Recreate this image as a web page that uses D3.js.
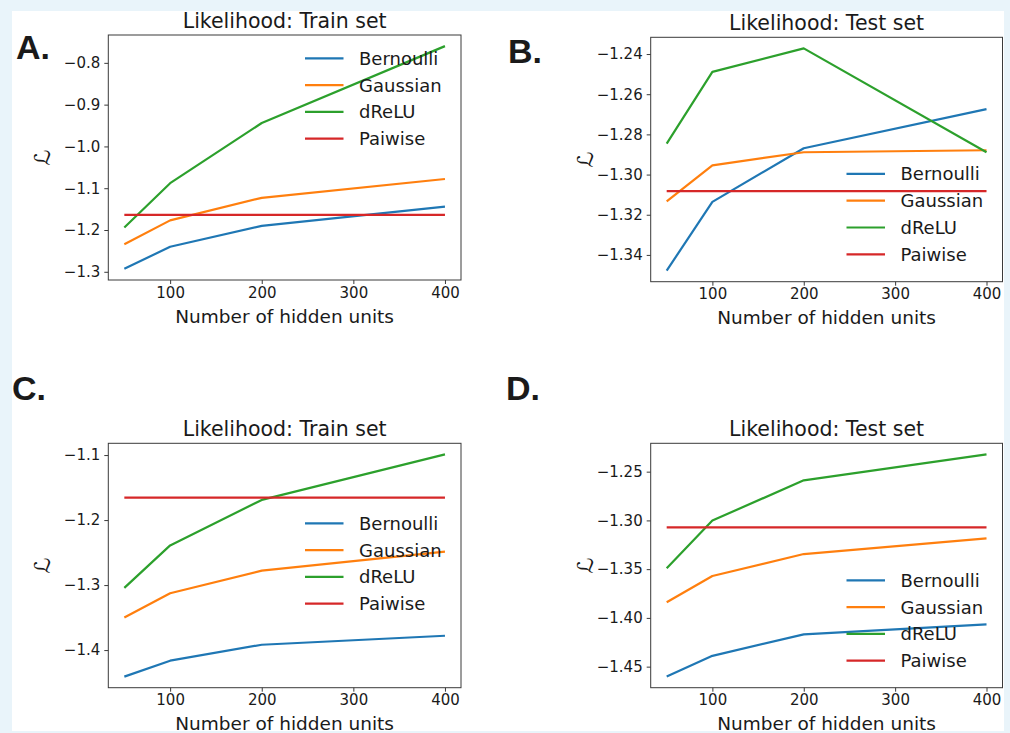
<!DOCTYPE html>
<html>
<head>
<meta charset="utf-8">
<script src="https://cdn.jsdelivr.net/npm/d3@7"></script>
<style>
  html, body { margin: 0; padding: 0; background: #e9f4fa; }
  svg { display: block; }
  text { font-family: "DejaVu Sans", sans-serif; fill: #1a1a1a; }
</style>
</head>
<body>
<script>
// Number of hidden units (shared x values)
const hiddenUnits = [50, 100, 200, 400];
const xTickValues = [100, 200, 300, 400];
const seriesNames = ["Bernoulli", "Gaussian", "dReLU", "Paiwise"];
const seriesColors = ["#1f77b4", "#ff7f0e", "#2ca02c", "#d62728"];

// Panel A — likelihood, train set
const aBernoulli = [-1.293, -1.240, -1.190, -1.144];
const aGaussian  = [-1.234, -1.177, -1.123, -1.078];
const aDReLU     = [-1.194, -1.088, -0.944, -0.760];
const aPaiwise   = -1.164;
const aTicks     = [-0.8, -0.9, -1.0, -1.1, -1.2, -1.3];

// Panel B — likelihood, test set
const bBernoulli = [-1.3478, -1.3136, -1.2869, -1.2674];
const bGaussian  = [-1.3133, -1.2954, -1.2889, -1.2879];
const bDReLU     = [-1.2846, -1.2489, -1.2372, -1.2889];
const bPaiwise   = -1.3082;
const bTicks     = [-1.24, -1.26, -1.28, -1.30, -1.32, -1.34];

// Panel C — likelihood, train set
const cBernoulli = [-1.4408, -1.4163, -1.3918, -1.3780];
const cGaussian  = [-1.3500, -1.3126, -1.2778, -1.2487];
const cDReLU     = [-1.3044, -1.2390, -1.1690, -1.0990];
const cPaiwise   = -1.1654;
const cTicks     = [-1.1, -1.2, -1.3, -1.4];

// Panel D — likelihood, test set
const dBernoulli = [-1.4602, -1.4389, -1.4169, -1.4067];
const dGaussian  = [-1.3839, -1.3570, -1.3345, -1.3185];
const dDReLU     = [-1.3491, -1.3001, -1.2589, -1.2323];
const dPaiwise   = -1.3072;
const dTicks     = [-1.25, -1.30, -1.35, -1.40, -1.45];

const panelLetters = ["A.", "B.", "C.", "D."];
const panelTitles = ["Likelihood: Train set", "Likelihood: Test set",
                     "Likelihood: Train set", "Likelihood: Test set"];
const xLabel = "Number of hidden units";
const yLabel = "\u2112";

const W = 1010, H = 733;
const svg = d3.select("body").append("svg").attr("width", W).attr("height", H);

// white figure sheet on the light-blue page
svg.append("rect").attr("x", 12).attr("y", 11).attr("width", 992).attr("height", 720)
  .attr("fill", "#ffffff");

const panels = [
  { letter: panelLetters[0], title: panelTitles[0], series: [aBernoulli, aGaussian, aDReLU], flat: aPaiwise,
    ticks: aTicks, fmt: ".1f", box: { l: 108.3, r: 461, t: 35, b: 280 },
    letterPos: [16, 58.5], legend: { anchor: "top", off: 23.3 } },
  { letter: panelLetters[1], title: panelTitles[1], series: [bBernoulli, bGaussian, bDReLU], flat: bPaiwise,
    ticks: bTicks, fmt: ".2f", box: { l: 650.7, r: 1002.5, t: 37.3, b: 281.7 },
    letterPos: [508, 63], legend: { anchor: "bottom", off: 27.4 } },
  { letter: panelLetters[2], title: panelTitles[2], series: [cBernoulli, cGaussian, cDReLU], flat: cPaiwise,
    ticks: cTicks, fmt: ".1f", box: { l: 108.3, r: 461, t: 443.3, b: 687.7 },
    letterPos: [12, 399.5], legend: { anchor: "top", off: 80 } },
  { letter: panelLetters[3], title: panelTitles[3], series: [dBernoulli, dGaussian, dDReLU], flat: dPaiwise,
    ticks: dTicks, fmt: ".2f", box: { l: 650.7, r: 1002.5, t: 443.3, b: 687.7 },
    letterPos: [506, 400], legend: { anchor: "bottom", off: 27 } }
];

const axisColor = "#3a3a3a";
const minusFmt = f => v => d3.format(f)(v).replace("-", "\u2212");

panels.forEach(p => {
  const { l, r, t, b } = p.box;
  const g = svg.append("g");

  // data extent with 5% margins
  const allVals = p.series.flat().concat([p.flat]);
  const [ymin, ymax] = d3.extent(allVals);
  const ypad = (ymax - ymin) * 0.05;
  const [xmin, xmax] = d3.extent(hiddenUnits);
  const xpad = (xmax - xmin) * 0.05;

  const x = d3.scaleLinear().domain([xmin - xpad, xmax + xpad]).range([l, r]);
  const y = d3.scaleLinear().domain([ymin - ypad, ymax + ypad]).range([b, t]);

  // axes
  const xAxis = d3.axisBottom(x).tickValues(xTickValues).tickSize(4).tickPadding(3)
    .tickFormat(d3.format("d"));
  const yAxis = d3.axisLeft(y).tickValues(p.ticks).tickSize(4).tickPadding(4)
    .tickFormat(minusFmt(p.fmt));

  const gx = g.append("g").attr("transform", `translate(0,${b})`).call(xAxis);
  const gy = g.append("g").attr("transform", `translate(${l},0)`).call(yAxis);
  [gx, gy].forEach(ax => {
    ax.select(".domain").remove();
    ax.selectAll(".tick line").attr("stroke", axisColor).attr("stroke-width", 1);
    ax.selectAll(".tick text").attr("font-size", 15).attr("fill", "#1a1a1a")
      .attr("font-family", "DejaVu Sans, sans-serif");
  });

  // lines
  const line = d3.line().x((d, i) => x(hiddenUnits[i])).y(d => y(d));
  p.series.forEach((vals, i) => {
    g.append("path").datum(vals).attr("d", line).attr("fill", "none")
      .attr("stroke", seriesColors[i]).attr("stroke-width", 2.2).attr("stroke-linejoin", "round");
  });
  g.append("path").datum(hiddenUnits.map(() => p.flat)).attr("d", line).attr("fill", "none")
    .attr("stroke", seriesColors[3]).attr("stroke-width", 2.2);

  // frame
  g.append("rect").attr("x", l).attr("y", t).attr("width", r - l).attr("height", b - t)
    .attr("fill", "none").attr("stroke", axisColor).attr("stroke-width", 1);

  // legend
  const rowGap = 26.8;
  const firstRow = p.legend.anchor === "top" ? t + p.legend.off : b - p.legend.off - rowGap * 3;
  const lx0 = r - 156;
  seriesNames.forEach((name, i) => {
    const yy = firstRow + i * rowGap;
    g.append("line").attr("x1", lx0).attr("x2", lx0 + 38.5).attr("y1", yy).attr("y2", yy)
      .attr("stroke", seriesColors[i]).attr("stroke-width", 2.2);
    g.append("text").attr("x", lx0 + 54).attr("y", yy).attr("dy", "0.36em")
      .attr("font-size", 18).text(name);
  });

  // title
  g.append("text").attr("x", (l + r) / 2).attr("y", t - 7).attr("text-anchor", "middle")
    .attr("font-size", 20.5).text(p.title);

  // x label
  g.append("text").attr("x", (l + r) / 2).attr("y", b + 42.5).attr("text-anchor", "middle")
    .attr("font-size", 18.5).text(xLabel);

  // y label
  g.append("text").attr("transform", `translate(${l - 58},${(t + b) / 2}) rotate(-90)`)
    .attr("text-anchor", "middle").attr("font-size", 22).text(yLabel);

  // panel letter
  svg.append("text").attr("x", p.letterPos[0]).attr("y", p.letterPos[1])
    .attr("font-weight", "bold").attr("font-size", 34)
    .style("font-family", "'Liberation Sans', Arial, sans-serif").text(p.letter);
});
</script>
</body>
</html>
